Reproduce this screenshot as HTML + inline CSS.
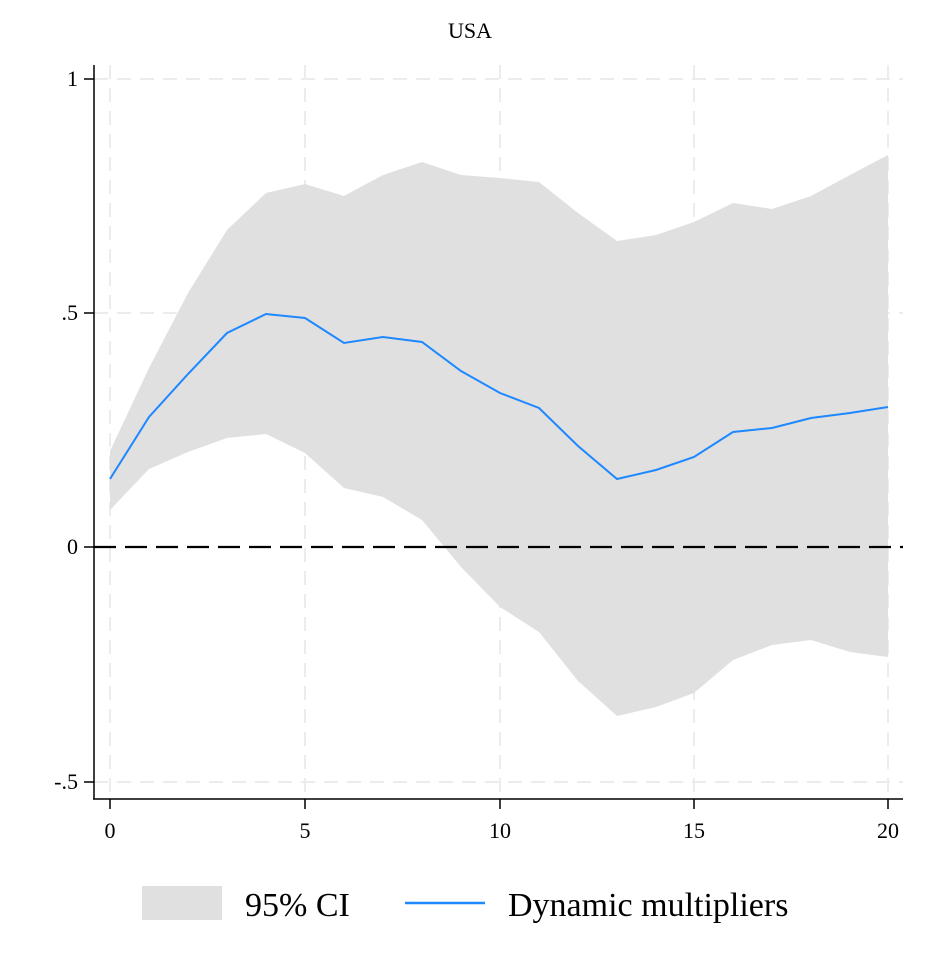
<!DOCTYPE html>
<html><head><meta charset="utf-8"><style>
html,body{margin:0;padding:0;background:#fff;}
svg{display:block;font-family:"Liberation Serif",serif;}
</style></head><body>
<svg width="925" height="959" viewBox="0 0 925 959" xmlns="http://www.w3.org/2000/svg">
<rect width="925" height="959" fill="#fff"/>
<text x="470" y="38" font-size="22" text-anchor="middle">USA</text>
<g stroke="#ececec" stroke-width="2" stroke-dasharray="14,9">
<line x1="110" y1="65" x2="110" y2="798"/>
<line x1="305" y1="65" x2="305" y2="798"/>
<line x1="500" y1="65" x2="500" y2="798"/>
<line x1="694" y1="65" x2="694" y2="798"/>
<line x1="888" y1="65" x2="888" y2="798"/>
<line x1="94" y1="79" x2="903" y2="79"/>
<line x1="94" y1="313" x2="903" y2="313"/>
<line x1="94" y1="782" x2="903" y2="782"/>
</g>
<polygon fill="#e0e0e0" points="110,451 149,368 188,293 227,230 266,193 305,184 344,196 383,175 422,162 461,175 500,178 539,182 578,213 617,241 656,235 694,222 733,203 772,209 811,196 850,175 888,155 888,657 850,652 811,640 772,645 733,660 694,693 656,707 617,716 578,681 539,632 500,607 461,567 422,520 383,497 344,488 305,453 266,434 227,438 188,452 149,469 110,510"/>
<line x1="94" y1="547" x2="903" y2="547" stroke="#000" stroke-width="2.2" stroke-dasharray="22,9"/>
<polyline fill="none" stroke="#1e88ff" stroke-width="2" points="110,479 149,417 188,374 227,333 266,314 305,318 344,343 383,337 422,342 461,371 500,393 539,408 578,446 617,479 656,470 694,457 733,432 772,428 811,418 850,413 888,407"/>
<g stroke="#000" stroke-width="1.5">
<line x1="94" y1="65" x2="94" y2="799"/>
<line x1="93" y1="799" x2="903" y2="799"/>
<line x1="84" y1="79" x2="94" y2="79"/>
<line x1="84" y1="313" x2="94" y2="313"/>
<line x1="84" y1="547" x2="94" y2="547"/>
<line x1="84" y1="782" x2="94" y2="782"/>
<line x1="110" y1="799" x2="110" y2="809"/>
<line x1="305" y1="799" x2="305" y2="809"/>
<line x1="500" y1="799" x2="500" y2="809"/>
<line x1="694" y1="799" x2="694" y2="809"/>
<line x1="888" y1="799" x2="888" y2="809"/>
</g>
<g font-size="22" text-anchor="end">
<text x="78" y="86">1</text>
<text x="78" y="320">.5</text>
<text x="78" y="554">0</text>
<text x="78" y="789">-.5</text>
</g>
<g font-size="22" text-anchor="middle">
<text x="110" y="838">0</text>
<text x="305" y="838">5</text>
<text x="500" y="838">10</text>
<text x="694" y="838">15</text>
<text x="888" y="838">20</text>
</g>
<rect x="142" y="886" width="80" height="34" fill="#e0e0e0"/>
<text x="245" y="916" font-size="34">95% CI</text>
<line x1="405" y1="903" x2="485" y2="903" stroke="#1e88ff" stroke-width="2.5"/>
<text x="508" y="916" font-size="34">Dynamic multipliers</text>
</svg>
</body></html>
